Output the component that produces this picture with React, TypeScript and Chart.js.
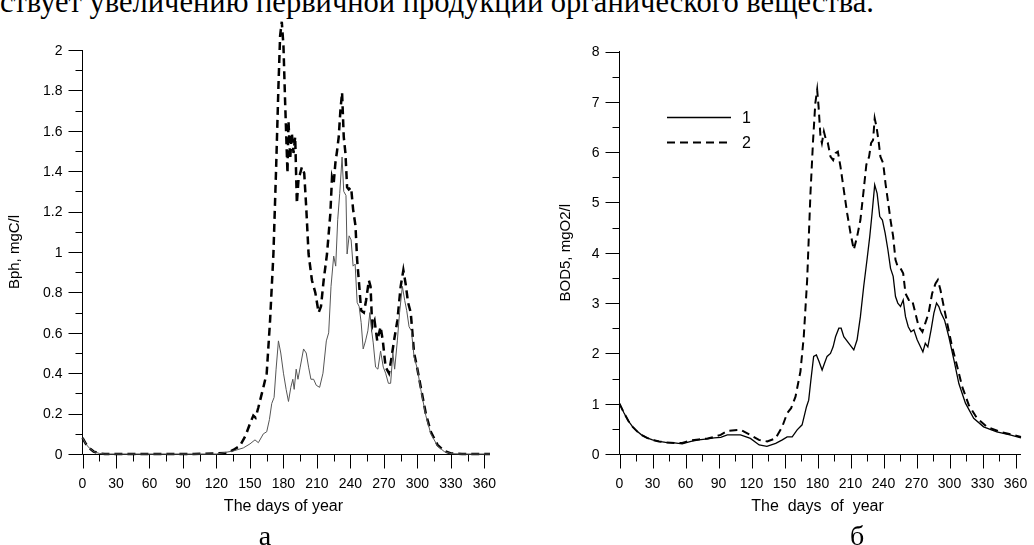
import React, { useEffect, useRef } from "react";
import { Chart, registerables } from "chart.js";

Chart.register(...registerables);

// ---------- DATA ----------
// Left panel (a): phytoplankton biomass Bph, mgC/l
const leftDays1 = [0, 3, 6, 10, 15, 20, 120, 135, 144, 150, 154.5, 157.5, 162, 165, 167.4, 169.5, 171.6, 173.4, 175.5, 177.6, 180, 182.4, 184.5, 186.6, 188.4, 189.6, 191.4, 193, 195, 198, 200.4, 202.5, 204.6, 207, 209.4, 212.4, 215.4, 218.4, 220.5, 222.6, 225, 226.8, 228.6, 230.4, 232.5, 234, 236, 237, 238.8, 240.6, 242.4, 244.2, 246, 247.8, 249.6, 251.4, 253.5, 255.6, 257.4, 259, 260.4, 262.5, 264.6, 267, 269.4, 271.5, 274, 276, 278, 279.6, 282, 284, 286.5, 288.6, 290.4, 292.5, 294.6, 297, 300, 303, 307.5, 312, 318, 324, 330, 340, 365];
const leftBph1 = [0.08, 0.05, 0.03, 0.012, 0.003, 0, 0, 0.015, 0.03, 0.05, 0.07, 0.056, 0.1, 0.11, 0.17, 0.25, 0.28, 0.42, 0.56, 0.5, 0.4, 0.32, 0.26, 0.33, 0.37, 0.32, 0.42, 0.37, 0.43, 0.52, 0.5, 0.43, 0.37, 0.37, 0.34, 0.33, 0.4, 0.56, 0.6, 0.83, 0.98, 0.93, 1.16, 1.29, 1.47, 1.3, 1.28, 0.99, 1.08, 1.06, 0.93, 0.94, 0.75, 0.73, 0.65, 0.52, 0.56, 0.61, 0.7, 0.61, 0.55, 0.43, 0.42, 0.51, 0.43, 0.4, 0.35, 0.35, 0.5, 0.42, 0.56, 0.7, 0.83, 0.76, 0.71, 0.63, 0.61, 0.48, 0.42, 0.32, 0.19, 0.1, 0.04, 0.012, 0.002, 0, 0];

const leftDays2 = [0, 3, 6, 10, 15, 20, 100, 130, 135, 141, 146, 150, 153, 155, 157.5, 162, 165, 168, 171, 173.4, 175.5, 177, 178.5, 180, 181.5, 183.6, 184.5, 186, 187.5, 189, 190.5, 192, 193.5, 195, 196.5, 198.6, 200.4, 202.5, 205.5, 208.5, 211.5, 213.6, 216, 219, 222, 223.5, 225, 226.5, 228, 229.5, 231, 232.5, 234, 235.5, 237, 238.5, 240.6, 242.4, 244.5, 246, 247.5, 249.6, 252, 254, 256.5, 258, 259.5, 261.6, 264, 267, 269, 271.5, 274.5, 276.6, 279, 282, 285, 287.4, 289.5, 291.6, 294, 297, 300, 303, 307.5, 312, 318, 324, 330, 340, 365];
const leftBph2 = [0.08, 0.05, 0.03, 0.012, 0.003, 0, 0, 0.005, 0.02, 0.04, 0.09, 0.15, 0.19, 0.18, 0.23, 0.33, 0.4, 0.66, 0.99, 1.41, 1.82, 2.07, 2.14, 2.02, 1.74, 1.39, 1.65, 1.46, 1.59, 1.49, 1.57, 1.24, 1.36, 1.39, 1.42, 1.39, 1.22, 0.99, 0.86, 0.8, 0.7, 0.73, 0.86, 0.99, 1.19, 1.37, 1.34, 1.44, 1.5, 1.57, 1.7, 1.79, 1.57, 1.49, 1.32, 1.31, 1.32, 1.21, 1.13, 0.96, 0.86, 0.71, 0.7, 0.76, 0.86, 0.83, 0.63, 0.66, 0.56, 0.63, 0.56, 0.43, 0.4, 0.47, 0.56, 0.66, 0.83, 0.91, 0.84, 0.75, 0.7, 0.5, 0.42, 0.33, 0.2, 0.11, 0.045, 0.015, 0.003, 0, 0];

// Right panel (б): BOD5, mgO2/l
const rightDays1 = [0, 4, 8, 12, 16, 20, 25, 30, 36, 42, 50, 57, 60, 65, 72, 80, 86, 92, 98, 110, 119, 127, 134, 142, 148, 152.4, 157, 161.5, 166, 170, 172, 174, 176.5, 179, 181.4, 184.2, 186.3, 188.7, 191.8, 194.2, 196.4, 199.4, 201.5, 203.9, 208.5, 213, 216, 219, 222, 225, 227.5, 229.6, 232, 234.2, 236.6, 239, 241.5, 244, 246.4, 248.8, 250.9, 253, 255.5, 257.9, 260, 262.5, 265, 267.6, 270.6, 273.6, 275.8, 278, 280.3, 283.3, 285.8, 288.2, 290.3, 292.4, 295.5, 299.4, 304, 308.5, 314.5, 322, 331, 343, 355, 365];
const rightBod1 = [1.0, 0.82, 0.66, 0.54, 0.45, 0.38, 0.32, 0.28, 0.25, 0.23, 0.22, 0.2, 0.22, 0.25, 0.28, 0.3, 0.32, 0.33, 0.38, 0.38, 0.31, 0.18, 0.15, 0.21, 0.28, 0.34, 0.34, 0.48, 0.58, 0.94, 1.07, 1.47, 1.94, 1.97, 1.84, 1.67, 1.8, 1.94, 2.0, 2.13, 2.33, 2.5, 2.5, 2.33, 2.2, 2.07, 2.27, 2.73, 3.33, 3.86, 4.32, 4.78, 5.35, 5.18, 4.72, 4.65, 4.39, 4.06, 3.69, 3.53, 3.13, 3.0, 2.93, 3.06, 2.73, 2.53, 2.43, 2.47, 2.27, 2.13, 2.03, 2.2, 2.13, 2.47, 2.8, 3.0, 2.93, 2.8, 2.66, 2.33, 1.87, 1.4, 1.01, 0.71, 0.54, 0.44, 0.38, 0.32];

const rightDays2 = [0, 4, 8, 12, 16, 20, 25, 30, 36, 42, 50, 57, 65, 72, 80, 86, 92, 98, 110, 119, 126.7, 134.3, 141.8, 147.9, 152.4, 156, 160, 164.5, 167.5, 170.6, 173.6, 176, 178, 179.7, 181, 182.7, 184, 185.8, 187.3, 189.4, 191.8, 194.2, 196.4, 198.5, 200.9, 203.9, 207, 210, 213, 216, 219, 222, 224.4, 226.9, 228.7, 230.5, 232, 233.6, 235.4, 237.2, 239.7, 241.8, 243.9, 246.4, 248.8, 250.9, 253, 255.5, 257.9, 260, 263, 266, 269, 272, 275.4, 278, 281, 284.2, 287.3, 289.4, 291.8, 294.8, 297.9, 302.4, 307, 311.5, 317.6, 325, 334, 346, 358, 365];
const rightBod2 = [1.0, 0.82, 0.66, 0.54, 0.45, 0.38, 0.32, 0.28, 0.25, 0.23, 0.22, 0.22, 0.27, 0.29, 0.31, 0.34, 0.38, 0.46, 0.48, 0.38, 0.28, 0.25, 0.31, 0.54, 0.81, 0.91, 1.14, 1.64, 2.33, 3.46, 5.18, 6.24, 6.97, 7.24, 6.9, 6.31, 6.18, 6.41, 6.28, 6.18, 5.91, 5.84, 5.98, 6.01, 5.71, 5.25, 4.78, 4.39, 4.06, 4.32, 4.65, 5.25, 5.75, 5.91, 6.18, 6.24, 6.67, 6.51, 6.24, 5.91, 5.78, 5.38, 5.05, 4.65, 4.32, 3.86, 3.72, 3.69, 3.59, 3.19, 3.06, 3.06, 2.8, 2.53, 2.43, 2.6, 2.8, 3.19, 3.39, 3.46, 3.26, 2.93, 2.6, 2.13, 1.74, 1.34, 0.97, 0.71, 0.54, 0.44, 0.38, 0.34];

// Ticks and labels
const xMajorTicks = [0, 30, 60, 90, 120, 150, 180, 210, 240, 270, 300, 330, 360];
const xMinorTicks = [15, 45, 75, 105, 135, 165, 195, 225, 255, 285, 315, 345];
const xTickLabels = ["0", "30", "60", "90", "120", "150", "180", "210", "240", "270", "300", "330", "360"];
const leftYMajor = [0, 0.2, 0.4, 0.6, 0.8, 1, 1.2, 1.4, 1.6, 1.8, 2];
const leftYMinor = [0.1, 0.3, 0.5, 0.7, 0.9, 1.1, 1.3, 1.5, 1.7, 1.9];
const leftYLabels = ["0", "0.2", "0.4", "0.6", "0.8", "1", "1.2", "1.4", "1.6", "1.8", "2"];
const rightYMajor = [0, 1, 2, 3, 4, 5, 6, 7, 8];
const rightYMinor = [0.5, 1.5, 2.5, 3.5, 4.5, 5.5, 6.5, 7.5];
const rightYLabels = ["0", "1", "2", "3", "4", "5", "6", "7", "8"];
const legendLabels = ["1", "2"];

const xTitleLeft = "The days of year";
const xTitleRight = "The  days  of  year";
const yTitleLeft = "Bph, mgC/l";
const yTitleRight = "BOD5, mgO2/l";
const captionText = "ствует увеличению первичной продукции органического вещества.";
const panelLabels = ["а", "б"];

const SANS = '"Liberation Sans", Arial, sans-serif';
const SERIF = '"Liberation Serif", "Times New Roman", serif';

type FrameCfg = {
  id: string;
  yMajor: number[];
  yMinor: number[];
  yLabels: string[];
  xTitle: string;
  yTitle: string;
  yTitleX: number;
  legend?: boolean;
};

function makeFramePlugin(cfg: FrameCfg) {
  return {
    id: "frame_" + cfg.id,
    beforeDatasetsDraw(chart: any) {
      const ctx = chart.ctx as CanvasRenderingContext2D;
      const xs = chart.scales.x;
      const ys = chart.scales.y;
      const { left, right, top, bottom } = chart.chartArea;
      const X0 = Math.floor(left) + 0.5;
      const Y0 = Math.floor(bottom) + 0.5;
      ctx.save();
      ctx.strokeStyle = "#000";
      ctx.lineWidth = 1;
      ctx.beginPath();
      ctx.moveTo(X0, Math.floor(top));
      ctx.lineTo(X0, Y0);
      ctx.lineTo(Math.ceil(right), Y0);
      xMajorTicks.forEach((v) => {
        const px = Math.round(xs.getPixelForValue(v)) + 0.5;
        ctx.moveTo(px, Y0);
        ctx.lineTo(px, Y0 + 14);
      });
      xMinorTicks.forEach((v) => {
        const px = Math.round(xs.getPixelForValue(v)) + 0.5;
        ctx.moveTo(px, Y0);
        ctx.lineTo(px, Y0 + 7);
      });
      cfg.yMajor.forEach((v) => {
        const py = Math.round(ys.getPixelForValue(v)) + 0.5;
        ctx.moveTo(X0 - 14, py);
        ctx.lineTo(X0, py);
      });
      cfg.yMinor.forEach((v) => {
        const py = Math.round(ys.getPixelForValue(v)) + 0.5;
        ctx.moveTo(X0 - 7, py);
        ctx.lineTo(X0, py);
      });
      ctx.stroke();

      ctx.fillStyle = "#000";
      ctx.font = `14px ${SANS}`;
      ctx.textAlign = "center";
      ctx.textBaseline = "middle";
      xMajorTicks.forEach((v, i) => {
        ctx.fillText(xTickLabels[i], xs.getPixelForValue(v), bottom + 30);
      });
      ctx.textAlign = "right";
      cfg.yMajor.forEach((v, i) => {
        ctx.fillText(cfg.yLabels[i], X0 - 20, ys.getPixelForValue(v) + 1);
      });
      ctx.font = `16px ${SANS}`;
      ctx.textAlign = "center";
      ctx.fillText(cfg.xTitle, (xs.getPixelForValue(0) + xs.getPixelForValue(360)) / 2, bottom + 53);
      ctx.save();
      ctx.translate(cfg.yTitleX, (top + bottom) / 2);
      ctx.rotate(-Math.PI / 2);
      ctx.font = `15px ${SANS}`;
      ctx.fillText(cfg.yTitle, 0, 0);
      ctx.restore();

      if (cfg.legend) {
        const lx0 = 150;
        const lx1 = 214;
        const ly = [117.5, 142.5];
        ctx.lineWidth = 1.3;
        ctx.beginPath();
        ctx.moveTo(lx0, ly[0]);
        ctx.lineTo(lx1, ly[0]);
        ctx.stroke();
        ctx.lineWidth = 2;
        ctx.setLineDash([8, 5]);
        ctx.beginPath();
        ctx.moveTo(lx0, ly[1]);
        ctx.lineTo(lx1, ly[1]);
        ctx.stroke();
        ctx.setLineDash([]);
        ctx.font = `16px ${SANS}`;
        ctx.textAlign = "left";
        ctx.fillText(legendLabels[0], 225, ly[0] + 1);
        ctx.fillText(legendLabels[1], 225, ly[1] + 1);
      }
      ctx.restore();
    },
  };
}

function pts(days: number[], vals: number[]) {
  return days.map((d, i) => ({ x: d, y: vals[i] }));
}

function makeConfig(opts: {
  ds: any[];
  yMax: number;
  yWidth: number;
  padTop: number;
  padRight: number;
  frame: FrameCfg;
}) {
  return {
    type: "line" as const,
    data: { datasets: opts.ds },
    options: {
      animation: false as const,
      responsive: false,
      devicePixelRatio: 1,
      layout: { padding: { top: opts.padTop, right: opts.padRight, left: 0, bottom: 0 } },
      plugins: { legend: { display: false }, tooltip: { enabled: false } },
      elements: { point: { radius: 0 }, line: { tension: 0 } },
      scales: {
        x: {
          type: "linear" as const,
          min: 0,
          max: 365,
          grid: { display: false, drawTicks: false },
          border: { display: false },
          ticks: { display: false },
          afterFit: (s: any) => {
            s.height = 91;
          },
        },
        y: {
          type: "linear" as const,
          min: 0,
          max: opts.yMax,
          grid: { display: false, drawTicks: false },
          border: { display: false },
          ticks: { display: false },
          afterFit: (s: any) => {
            s.width = opts.yWidth;
          },
        },
      },
    },
    plugins: [makeFramePlugin(opts.frame)],
  };
}

export default function App() {
  const leftRef = useRef<HTMLCanvasElement>(null);
  const rightRef = useRef<HTMLCanvasElement>(null);

  useEffect(() => {
    const left = new Chart(
      leftRef.current as HTMLCanvasElement,
      makeConfig({
        ds: [
          {
            data: pts(leftDays1, leftBph1),
            borderColor: "#555",
            borderWidth: 1,
            fill: false,
            clip: false,
          },
          {
            data: pts(leftDays2, leftBph2),
            borderColor: "#000",
            borderWidth: 2.5,
            borderDash: [8, 5],
            fill: false,
            clip: false,
          },
        ],
        yMax: 2,
        yWidth: 82.5,
        padTop: 50,
        padRight: 27,
        frame: {
          id: "l",
          yMajor: leftYMajor,
          yMinor: leftYMinor,
          yLabels: leftYLabels,
          xTitle: xTitleLeft,
          yTitle: yTitleLeft,
          yTitleX: 15,
        },
      }) as any
    );
    const right = new Chart(
      rightRef.current as HTMLCanvasElement,
      makeConfig({
        ds: [
          {
            data: pts(rightDays1, rightBod1),
            borderColor: "#000",
            borderWidth: 1.3,
            fill: false,
            clip: false,
          },
          {
            data: pts(rightDays2, rightBod2),
            borderColor: "#000",
            borderWidth: 2,
            borderDash: [8, 5],
            fill: false,
            clip: false,
          },
        ],
        yMax: 8,
        yWidth: 102.5,
        padTop: 51.5,
        padRight: 13,
        frame: {
          id: "r",
          yMajor: rightYMajor,
          yMinor: rightYMinor,
          yLabels: rightYLabels,
          xTitle: xTitleRight,
          yTitle: yTitleRight,
          yTitleX: 49,
          legend: true,
        },
      }) as any
    );
    return () => {
      left.destroy();
      right.destroy();
    };
  }, []);

  const labelStyle = (cx: number): React.CSSProperties => ({
    position: "absolute",
    left: cx,
    top: 522,
    transform: "translateX(-50%)",
    font: `28px ${SERIF}`,
    lineHeight: "28px",
    color: "#000",
  });

  return (
    <div
      style={{
        position: "fixed",
        left: 0,
        top: 0,
        width: 1034,
        height: 545,
        overflow: "hidden",
        background: "#fff",
      }}
    >
      <div
        style={{
          position: "absolute",
          left: 0,
          top: -13,
          whiteSpace: "nowrap",
          font: `30.5px ${SERIF}`,
          lineHeight: "30px",
          color: "#000",
        }}
      >
        {captionText}
      </div>
      <canvas
        ref={leftRef}
        width={517}
        height={545}
        style={{ position: "absolute", left: 0, top: 0, width: 517, height: 545 }}
      />
      <canvas
        ref={rightRef}
        width={517}
        height={545}
        style={{ position: "absolute", left: 517, top: 0, width: 517, height: 545 }}
      />
      <div style={labelStyle(265)}>{panelLabels[0]}</div>
      <div style={labelStyle(857)}>{panelLabels[1]}</div>
    </div>
  );
}
